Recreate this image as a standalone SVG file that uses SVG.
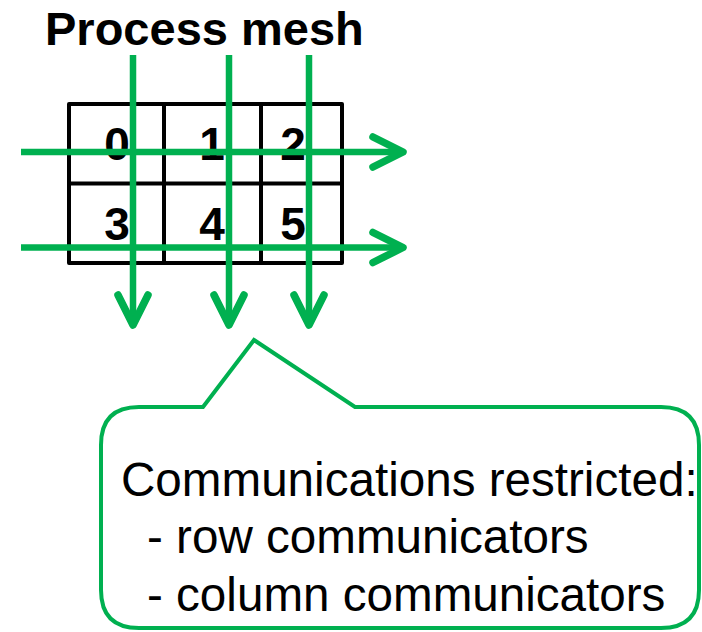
<svg xmlns="http://www.w3.org/2000/svg" width="702" height="632" viewBox="0 0 702 632">
  <style>
    .title { font-family: "Liberation Sans", Arial, sans-serif; font-weight: bold; font-size: 47px; fill: #000; }
    .rank { font-family: "Liberation Sans", Arial, sans-serif; font-weight: bold; font-size: 46px; fill: #000; text-anchor: middle; }
    .grid { fill: none; stroke: #000; stroke-width: 4; stroke-linejoin: round; }
    .comm { fill: none; stroke: #00B050; stroke-width: 6.5; stroke-linecap: butt; }
    .head { fill: none; stroke: #00B050; stroke-width: 7.5; stroke-linecap: round; stroke-linejoin: round; }
    .callout { fill: #fff; stroke: #00B050; stroke-width: 4; stroke-linejoin: miter; }
    .note { font-family: "Liberation Sans", Arial, sans-serif; font-size: 47.6px; fill: #000; }
  </style>

  <text class="title" x="45" y="45">Process mesh</text>

  <!-- 2 x 3 process grid -->
  <g id="mesh">
    <rect class="grid" x="69" y="104" width="273" height="159"/>
    <line class="grid" x1="69" y1="183.5" x2="342" y2="183.5"/>
    <line class="grid" x1="164" y1="104" x2="164" y2="263"/>
    <line class="grid" x1="261" y1="104" x2="261" y2="263"/>
  </g>
  <g id="rank0"><text class="rank" x="117" y="160">0</text></g>
  <g id="rank1"><text class="rank" x="212" y="160">1</text></g>
  <g id="rank2"><text class="rank" x="293" y="160">2</text></g>
  <g id="rank3"><text class="rank" x="117" y="240">3</text></g>
  <g id="rank4"><text class="rank" x="212" y="240">4</text></g>
  <g id="rank5"><text class="rank" x="293" y="240">5</text></g>

  <!-- row and column communicators -->
  <g id="connectors">
    <line class="comm" x1="21" y1="152" x2="402" y2="152"/>
    <polyline class="head" points="373,137 403,152 373,167"/>
    <line class="comm" x1="21" y1="247.5" x2="402" y2="247.5"/>
    <polyline class="head" points="373,232.5 403,247.5 373,262.5"/>

    <line class="comm" x1="133" y1="55" x2="133" y2="324"/>
    <polyline class="head" points="118,295 133,325 148,295"/>
    <line class="comm" x1="229" y1="55" x2="229" y2="324"/>
    <polyline class="head" points="214,295 229,325 244,295"/>
    <line class="comm" x1="309" y1="55" x2="309" y2="324"/>
    <polyline class="head" points="294,295 309,325 324,295"/>
  </g>

  <!-- speech-bubble note -->
  <g id="note">
    <path class="callout" d="M139,407 L203,407 L254,340 L355,407 L661,407 Q699,407 699,445 L699,590 Q699,628 661,628 L139,628 Q101,628 101,590 L101,445 Q101,407 139,407 Z"/>
    <text class="note" x="121" y="496">Communications restricted:</text>
    <text class="note" x="147" y="553">- row communicators</text>
    <text class="note" x="147" y="611">- column communicators</text>
  </g>
</svg>
